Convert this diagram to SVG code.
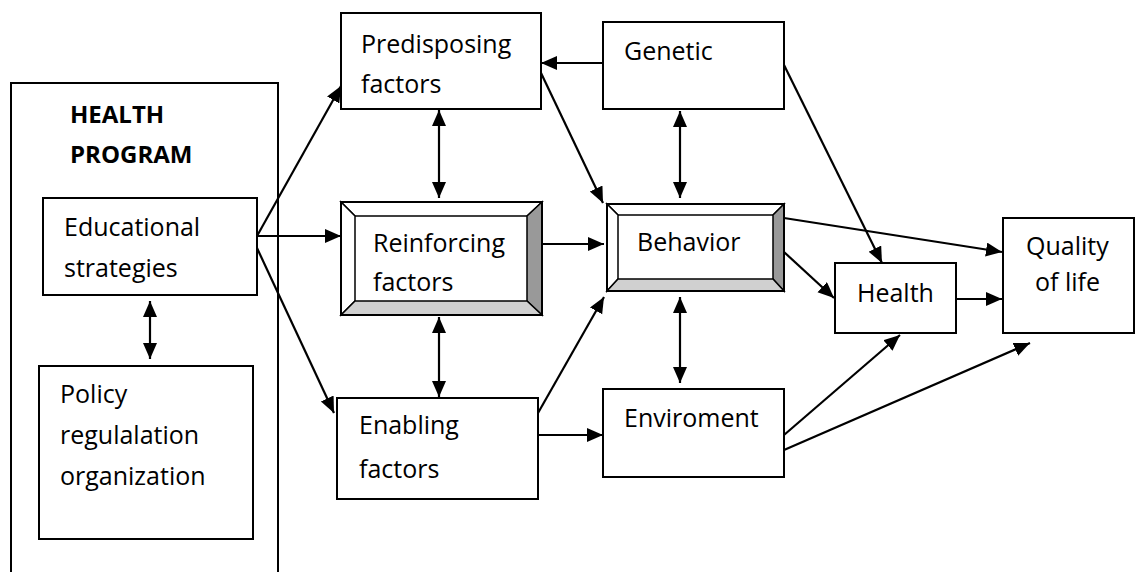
<svg xmlns="http://www.w3.org/2000/svg" width="1140" height="572" viewBox="0 0 1140 572">
<style>
.box{fill:#fff;stroke:#000;stroke-width:2}
.t{font-family:"Open Sans","Liberation Sans",sans-serif;font-size:25px;fill:#000}
.b{font-family:"Open Sans","Liberation Sans",sans-serif;font-size:24px;font-weight:bold;fill:#000}
.c{stroke:#000;stroke-width:2.2;fill:none;marker-end:url(#ah)}
.d{marker-start:url(#ah)}
.bev{stroke:#000;stroke-width:1.5}
</style>
<defs>
<marker id="ah" markerUnits="userSpaceOnUse" markerWidth="18" markerHeight="16" refX="16" refY="7" orient="auto-start-reverse" viewBox="0 0 18 16">
<path d="M0,0 L16,7 L0,14 z" fill="#000"/>
</marker>
</defs>
<rect width="1140" height="572" fill="#fff"/>

<g id="health-program">
<rect class="box" x="11" y="83" width="267" height="520"/>
<text class="b" x="70" y="123">HEALTH</text>
<text class="b" x="70" y="163">PROGRAM</text>
</g>
<g id="educational">
<rect class="box" x="43" y="198" width="214" height="97"/>
<text class="t" x="64" y="236">Educational</text>
<text class="t" x="64" y="277">strategies</text>
</g>
<g id="policy">
<rect class="box" x="39" y="366" width="214" height="173"/>
<text class="t" x="60" y="403">Policy</text>
<text class="t" x="60" y="444">regulalation</text>
<text class="t" x="60" y="485">organization</text>
</g>
<g id="predisposing">
<rect class="box" x="341" y="13" width="200" height="96"/>
<text class="t" x="361" y="53">Predisposing</text>
<text class="t" x="361" y="93">factors</text>
</g>
<g id="genetic">
<rect class="box" x="603" y="22" width="181" height="87"/>
<text class="t" x="624" y="60">Genetic</text>
</g>
<g id="reinforcing">
<rect class="box" x="341" y="202" width="201" height="113"/>
<polygon points="341,202 542,202 527,216 355,216" fill="#fff" class="bev"/>
<polygon points="341,202 355,216 355,301 341,315" fill="#fff" class="bev"/>
<polygon points="542,202 542,315 527,301 527,216" fill="#999" class="bev"/>
<polygon points="341,315 355,301 527,301 542,315" fill="#d0d0d0" class="bev"/>
<rect x="341" y="202" width="201" height="113" fill="none" stroke="#000" stroke-width="2"/>
<text class="t" x="373" y="252">Reinforcing</text>
<text class="t" x="373" y="291">factors</text>
</g>
<g id="behavior">
<rect class="box" x="607" y="204" width="177" height="87"/>
<polygon points="607,204 784,204 773,215 618,215" fill="#fff" class="bev"/>
<polygon points="607,204 618,215 618,279 607,291" fill="#fff" class="bev"/>
<polygon points="784,204 784,291 773,279 773,215" fill="#999" class="bev"/>
<polygon points="607,291 618,279 773,279 784,291" fill="#d0d0d0" class="bev"/>
<rect x="607" y="204" width="177" height="87" fill="none" stroke="#000" stroke-width="2"/>
<text class="t" x="637" y="251">Behavior</text>
</g>
<g id="enabling">
<rect class="box" x="337" y="398" width="201" height="101"/>
<text class="t" x="359" y="434">Enabling</text>
<text class="t" x="359" y="478">factors</text>
</g>
<g id="enviroment">
<rect class="box" x="603" y="389" width="181" height="88"/>
<text class="t" x="624" y="427">Enviroment</text>
</g>
<g id="health">
<rect class="box" x="835" y="263" width="121" height="70"/>
<text class="t" x="857" y="302">Health</text>
</g>
<g id="quality">
<rect class="box" x="1003" y="218" width="131" height="115"/>
<text class="t" x="1026" y="255">Quality</text>
<text class="t" x="1035" y="291">of life</text>
</g>

<g id="connectors">
<line class="c" x1="603" y1="63" x2="541" y2="63"/>
<line class="c d" x1="439" y1="110" x2="439" y2="198"/>
<line class="c d" x1="680" y1="111" x2="680" y2="198"/>
<line class="c" x1="541" y1="73" x2="603" y2="203"/>
<line class="c" x1="784" y1="65" x2="882" y2="263"/>
<line class="c" x1="257" y1="236" x2="341" y2="86"/>
<line class="c" x1="257" y1="236" x2="341" y2="236"/>
<line class="c" x1="257" y1="248" x2="334" y2="413"/>
<line class="c d" x1="150" y1="301" x2="150" y2="359"/>
<line class="c" x1="542" y1="244" x2="604" y2="244"/>
<line class="c d" x1="439" y1="317" x2="439" y2="397"/>
<line class="c" x1="538" y1="413" x2="604" y2="297"/>
<line class="c d" x1="680" y1="297" x2="680" y2="383"/>
<line class="c" x1="538" y1="435" x2="603" y2="435"/>
<line class="c" x1="784" y1="218" x2="1002" y2="252"/>
<line class="c" x1="784" y1="252" x2="834" y2="298"/>
<line class="c" x1="956" y1="299" x2="1002" y2="299"/>
<line class="c" x1="784" y1="435" x2="900" y2="335"/>
<line class="c" x1="784" y1="450" x2="1030" y2="343"/>
</g>
</svg>
